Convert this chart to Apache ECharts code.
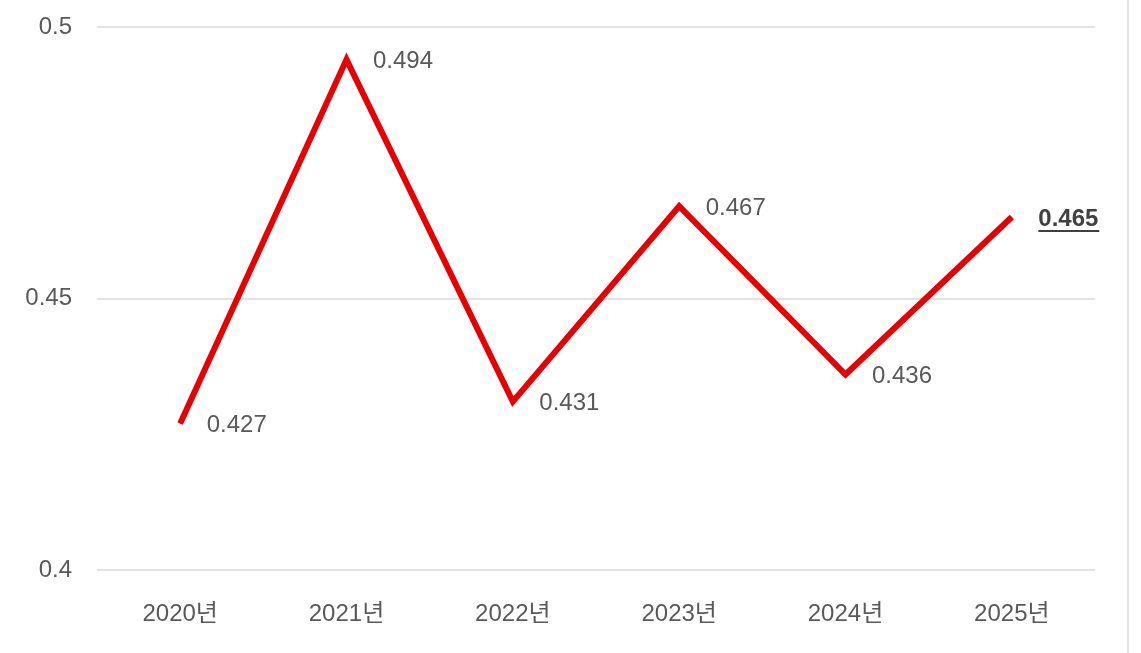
<!DOCTYPE html>
<html lang="ko" style="height: 100%">
<head>
  <meta charset="utf-8">
</head>
<body style="height: 100%; margin: 0; background: #fff">
  <div id="container" style="width: 1127px; height: 653px; border-right: 2px solid #e3e3e3"></div>
  <script type="text/javascript" src="https://fastly.jsdelivr.net/npm/echarts@6.0.0/dist/echarts.min.js"></script>
  <script type="text/javascript">
    // 연도
    const years = ['2020년', '2021년', '2022년', '2023년', '2024년', '2025년'];
    // 값
    const values = [0.427, 0.494, 0.431, 0.467, 0.436, 0.465];
    // y축 범위
    const yMin = 0.4, yMax = 0.5, yStep = 0.05;

    const font = '"Liberation Sans", "Noto Sans CJK KR", sans-serif';
    const last = values.length - 1;

    var dom = document.getElementById('container');
    var myChart = echarts.init(dom, null, { renderer: 'canvas' });

    var option = {
      backgroundColor: '#fff',
      animation: false,
      grid: { left: 97, right: 32, top: 27, bottom: 83 },
      xAxis: {
        type: 'category',
        data: years,
        boundaryGap: true,
        axisLine: { show: false },
        axisTick: { show: false },
        axisLabel: { color: '#595959', fontSize: 24, fontFamily: font, margin: 32 }
      },
      yAxis: {
        type: 'value',
        min: yMin,
        max: yMax,
        interval: yStep,
        axisLine: { show: false },
        axisTick: { show: false },
        splitLine: { lineStyle: { color: '#d9d9d9', width: 1.5 } },
        axisLabel: { color: '#595959', fontSize: 24, fontFamily: font, margin: 25 }
      },
      series: [{
        type: 'line',
        data: values.map((v, i) => i === last ? {
          value: v,
          label: {
            formatter: '{b|{c}}\n{u|}',
            rich: {
              b: { fontWeight: 'bold', fontSize: 24, color: '#404040', fontFamily: font, lineHeight: 22 },
              u: { width: 61, height: 2, backgroundColor: '#404040', lineHeight: 2 }
            },
            offset: [0, 3]
          }
        } : v),
        showSymbol: true,
        symbol: 'circle',
        symbolSize: 1,
        itemStyle: { color: '#e80000' },
        lineStyle: { color: '#e80000', width: 6, cap: 'butt', join: 'miter' },
        label: {
          show: true,
          position: 'right',
          distance: 26,
          offset: [0, 2],
          color: '#595959',
          fontSize: 24,
          fontFamily: font
        }
      }]
    };

    myChart.setOption(option);
    window.addEventListener('resize', myChart.resize);
  </script>
</body>
</html>
